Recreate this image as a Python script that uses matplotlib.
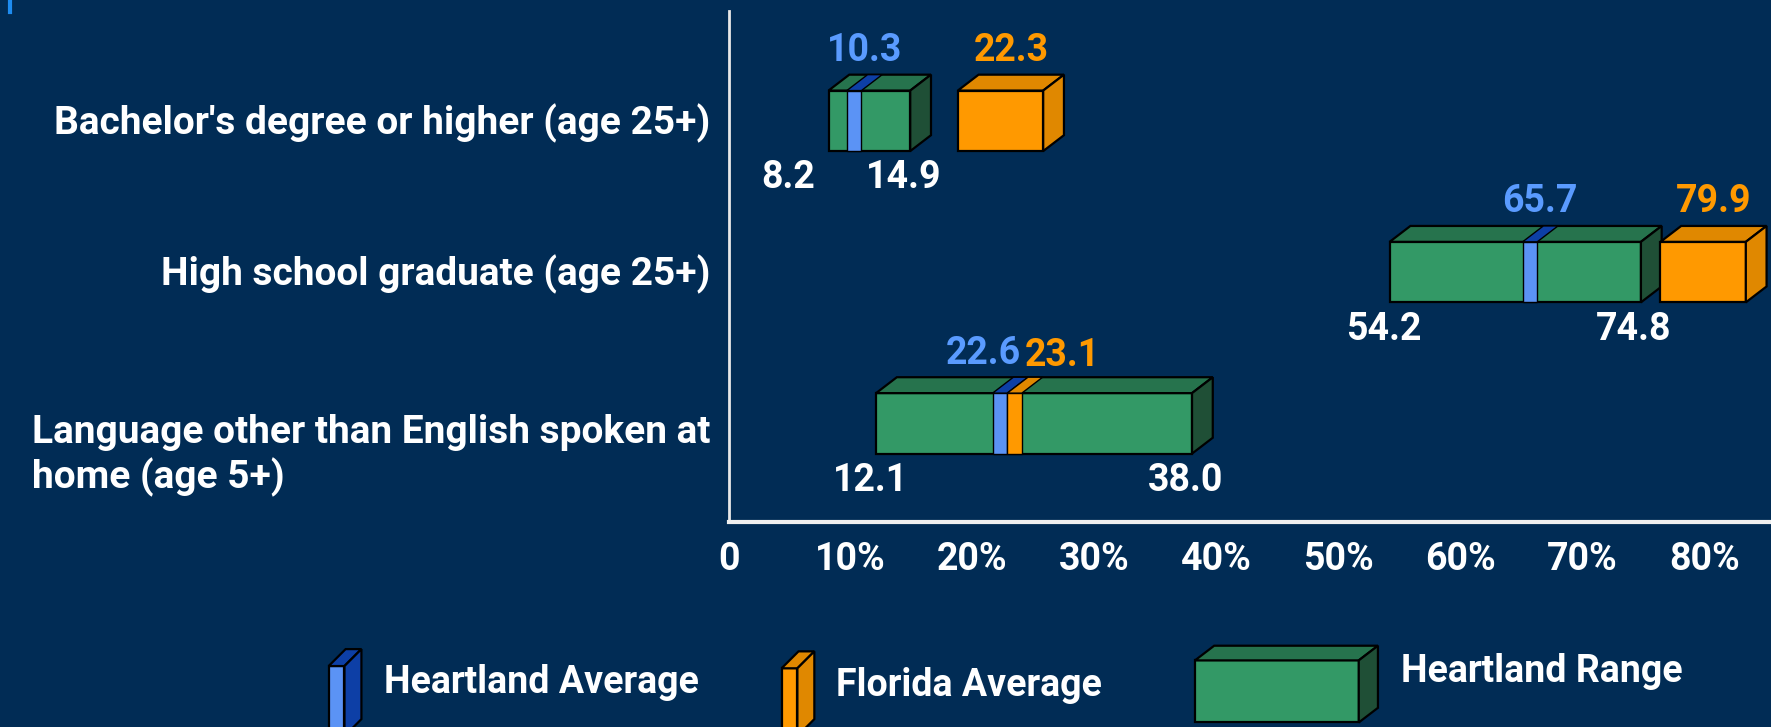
import matplotlib
matplotlib.use('Agg')
import matplotlib.pyplot as plt
from matplotlib.patches import Polygon, Rectangle
from matplotlib.lines import Line2D
from matplotlib import font_manager

# ---------------- data ----------------
categories = ["Bachelor's degree or higher (age 25+)",
              "High school graduate (age 25+)",
              "Language other than English spoken at\nhome (age 5+)"]
range_low = [8.2, 54.2, 12.1]
range_high = [14.9, 74.8, 38.0]
heartland_avg = [10.3, 65.7, 22.6]
florida_avg = [22.3, 79.9, 23.1]
tick_values = [0, 10, 20, 30, 40, 50, 60, 70, 80]
tick_labels = ['0', '10%', '20%', '30%', '40%', '50%', '60%', '70%', '80%']
legend_labels = ['Heartland Average', 'Florida Average', 'Heartland Range']

# ---------------- style ----------------
BG = '#012c55'
GREEN_FRONT = '#339966'
GREEN_TOP = '#26734d'
GREEN_SIDE = '#1f4f36'
BLUE_FRONT = '#5b93f5'
BLUE_TOP = '#0d3fa6'
ORANGE_FRONT = '#ff9900'
ORANGE_TOP = '#e08800'
ORANGE_SIDE = '#e08800'
BLUE_TEXT = '#5a9bff'
ORANGE_TEXT = '#ff9900'
WHITE = '#ffffff'

H = 0.40          # box height (row units)
DX = 1.7          # depth in x (data units)
DY = 0.105        # depth in y (row units)
STRIPE_W = 1.2
FL_BOX_W = 7.0
FS = 27
FS_CAT = 28


def pick_font():
    for name in ['Roboto', 'Liberation Sans', 'DejaVu Sans']:
        try:
            font_manager.findfont(font_manager.FontProperties(family=name),
                                  fallback_to_default=False)
            return name
        except Exception:
            pass
    return 'DejaVu Sans'


FONT = pick_font()
plt.rcParams['font.family'] = [FONT, 'DejaVu Sans']
plt.rcParams['font.weight'] = 'bold'

W_REF, H_REF = 1568.0, 644.0   # layout reference units


def fx(x):
    return x / W_REF


def fy(y):
    return 1 - y / H_REF


fig = plt.figure(figsize=(17.71, 7.27), dpi=100, facecolor=BG)
ax = fig.add_axes([fx(645), fy(462), 1 - fx(645), fy(10) - fy(462)])
ax.set_facecolor(BG)
ax.set_xlim(0, (W_REF - 645) / 10.8)
ax.set_ylim(2.649, -0.724)

for s in ['top', 'right']:
    ax.spines[s].set_visible(False)
ax.spines['left'].set_color('#e8e8e8')
ax.spines['left'].set_linewidth(2)
ax.spines['bottom'].set_color('#f0f0f0')
ax.spines['bottom'].set_linewidth(3)
ax.set_yticks([])
ax.set_xticks(tick_values, tick_labels)
ax.tick_params(axis='x', length=0, pad=14, labelsize=FS, labelcolor=WHITE)
for lab in ax.get_xticklabels():
    lab.set_fontweight('bold')

EC = 'black'
LW = 1.6


def box3d(x0, x1, yc, front, top, side, z=2, draw_side=True):
    yt = yc - H / 2
    yb = yc + H / 2
    ax.add_patch(Rectangle((x0, yt), x1 - x0, H, fc=front, ec=EC, lw=LW, zorder=z))
    ax.add_patch(Polygon([(x0, yt), (x1, yt), (x1 + DX, yt - DY), (x0 + DX, yt - DY)],
                         closed=True, fc=top, ec=EC, lw=LW, zorder=z))
    if draw_side:
        ax.add_patch(Polygon([(x1, yt), (x1 + DX, yt - DY), (x1 + DX, yb - DY), (x1, yb)],
                             closed=True, fc=side, ec=EC, lw=LW, zorder=z))


def stripe(c, yc, front, top, z=4):
    x0 = c - STRIPE_W / 2
    x1 = c + STRIPE_W / 2
    yt = yc - H / 2
    ax.add_patch(Rectangle((x0, yt), STRIPE_W, H, fc=front, ec=EC, lw=1.0, zorder=z))
    ax.add_patch(Polygon([(x0, yt), (x1, yt), (x1 + DX, yt - DY), (x0 + DX, yt - DY)],
                         closed=True, fc=top, ec=EC, lw=1.0, zorder=z))


def label(x, y, txt, color, ha, va, dx=0, dy=0):
    ax.annotate(txt, (x, y), xytext=(dx, dy), textcoords='offset points',
                ha=ha, va=va, color=color, fontsize=FS, fontweight='bold',
                annotation_clip=False, zorder=6)


for i, cat in enumerate(categories):
    lo, hi = range_low[i], range_high[i]
    ha_v, fl_v = heartland_avg[i], florida_avg[i]
    yt = i - H / 2
    yb = i + H / 2

    box3d(lo, hi, i, GREEN_FRONT, GREEN_TOP, GREEN_SIDE)

    fl_inside = lo <= fl_v <= hi
    hc, fc = ha_v, fl_v
    if fl_inside and abs(fl_v - ha_v) < STRIPE_W:
        mid = (ha_v + fl_v) / 2
        hc, fc = mid - STRIPE_W / 2, mid + STRIPE_W / 2
    stripe(hc, i, BLUE_FRONT, BLUE_TOP)
    if fl_inside:
        stripe(fc, i, ORANGE_FRONT, ORANGE_TOP)
        mid = (hc + fc) / 2 + DX / 2
        label(mid, yt - DY, f'{ha_v:.1f}', BLUE_TEXT, 'right', 'bottom', 2, 4)
        label(mid, yt - DY, f'{fl_v:.1f}', ORANGE_TEXT, 'left', 'bottom', 5, 2)
    else:
        box3d(fl_v - FL_BOX_W / 2, fl_v + FL_BOX_W / 2, i,
              ORANGE_FRONT, ORANGE_TOP, ORANGE_SIDE)
        label(hc + DX / 2, yt - DY, f'{ha_v:.1f}', BLUE_TEXT, 'center', 'bottom', 0, 4)
        label(fl_v + DX / 2, yt - DY, f'{fl_v:.1f}', ORANGE_TEXT, 'center', 'bottom', 0, 4)

    # range end labels
    if hi - lo < 10:
        label(lo, yb, f'{lo:.1f}', WHITE, 'right', 'top', -10, -6)
    else:
        label(lo, yb, f'{lo:.1f}', WHITE, 'center', 'top', -4, -6)
    label(hi, yb, f'{hi:.1f}', WHITE, 'center', 'top', -5, -6)

    # category label
    multiline = '\n' in cat
    ax.annotate(cat, (0, yt), xycoords=('axes fraction', 'data'),
                xytext=(-13, -15 if multiline else -9), textcoords='offset points',
                ha='right', va='top', multialignment='left',
                color=WHITE, fontsize=FS_CAT, fontweight='bold',
                annotation_clip=False, linespacing=1.2)


# ---------------- legend (figure coordinates) ----------------
def fig_box(x0, x1, ytop, ybot, ddx, ddy, front, top, side):
    tr = fig.transFigure
    fig.add_artist(Polygon([(fx(x0), fy(ytop)), (fx(x1), fy(ytop)),
                            (fx(x1), fy(ybot)), (fx(x0), fy(ybot))],
                           closed=True, fc=front, ec=EC, lw=LW, transform=tr))
    fig.add_artist(Polygon([(fx(x0), fy(ytop)), (fx(x1), fy(ytop)),
                            (fx(x1 + ddx), fy(ytop - ddy)), (fx(x0 + ddx), fy(ytop - ddy))],
                           closed=True, fc=top, ec=EC, lw=LW, transform=tr))
    fig.add_artist(Polygon([(fx(x1), fy(ytop)), (fx(x1 + ddx), fy(ytop - ddy)),
                            (fx(x1 + ddx), fy(ybot - ddy)), (fx(x1), fy(ybot))],
                           closed=True, fc=side, ec=EC, lw=LW, transform=tr))


fig_box(291, 305, 590, 652, 15, 15, BLUE_FRONT, BLUE_TOP, BLUE_TOP)
fig_box(692, 706, 592, 652, 15, 15, ORANGE_FRONT, ORANGE_TOP, ORANGE_SIDE)
fig_box(1058, 1203, 585, 640, 17, 13, GREEN_FRONT, GREEN_TOP, GREEN_SIDE)

legend_pos = [(340, 605), (740, 607), (1240, 595)]
for (lx, ly), txt in zip(legend_pos, legend_labels):
    fig.text(fx(lx), fy(ly), txt, ha='left', va='center', color=WHITE,
             fontsize=FS, fontweight='bold')

# small accent mark at top-left
fig.add_artist(Line2D([fx(9), fx(9)], [1.0, fy(11)], color='#1e8cf0', lw=3,
                      transform=fig.transFigure))

fig.savefig('out.png', dpi=100, facecolor=BG)
